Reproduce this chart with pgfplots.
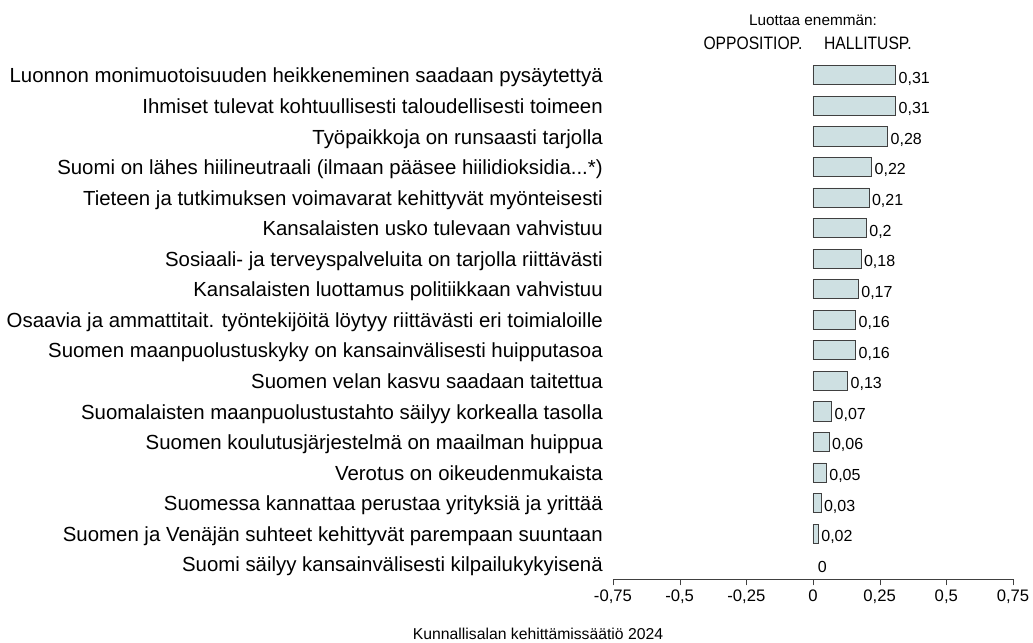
\documentclass[border=0pt]{standalone}
\usepackage{fontspec}
\setmainfont{Liberation Sans}
\usepackage{pgfplots}
\pgfplotsset{compat=1.18}

\definecolor{barFill}{RGB}{206,224,226}
\definecolor{barEdge}{RGB}{64,64,64}

\begin{document}
\begin{tikzpicture}
\begin{axis}[
    scale only axis,
    width=300pt, height=389.6pt,
    xmin=-0.75, xmax=0.75,
    ymin=-0.5, ymax=16.5,
    xbar, bar width=14.3pt, bar shift=0pt,
    axis x line=bottom,
    axis y line=left,
    x axis line style={-, draw=black!75},
    y axis line style={draw=none},
    ytick style={draw=none},
    xtick style={draw=black!75},
    tick align=outside,
    major tick length=4.5pt,
    xtick={-0.75,-0.5,-0.25,0,0.25,0.5,0.75},
    xticklabel style={font=\fontsize{12.5}{14}\selectfont, /pgf/number format/assume math mode=true,
        /pgf/number format/use comma, /pgf/number format/fixed, /pgf/number format/precision=2},
    ytick={0,1,2,3,4,5,6,7,8,9,10,11,12,13,14,15,16},
    yticklabels={
        {Suomi säilyy kansainvälisesti kilpailukykyisenä},
        {Suomen ja Venäjän suhteet kehittyvät parempaan suuntaan},
        {Suomessa kannattaa perustaa yrityksiä ja yrittää},
        {Verotus on oikeudenmukaista},
        {Suomen koulutusjärjestelmä on maailman huippua},
        {Suomalaisten maanpuolustustahto säilyy korkealla tasolla},
        {Suomen velan kasvu saadaan taitettua},
        {Suomen maanpuolustuskyky on kansainvälisesti huipputasoa},
        {Osaavia ja ammattitait. työntekijöitä löytyy riittävästi eri toimialoille},
        {Kansalaisten luottamus politiikkaan vahvistuu},
        {Sosiaali- ja terveyspalveluita on tarjolla riittävästi},
        {Kansalaisten usko tulevaan vahvistuu},
        {Tieteen ja tutkimuksen voimavarat kehittyvät myönteisesti},
        {Suomi on lähes hiilineutraali (ilmaan pääsee hiilidioksidia.{}.{}.*)},
        {Työpaikkoja on runsaasti tarjolla},
        {Ihmiset tulevat kohtuullisesti taloudellisesti toimeen},
        {Luonnon monimuotoisuuden heikkeneminen saadaan pysäytettyä}},
    yticklabel style={font=\fontsize{15.3}{18}\selectfont, anchor=east, inner sep=0pt,
        text height=10.5pt, text depth=3pt, xshift=-3pt, yshift=-2pt},
    nodes near coords,
    nodes near coords style={font=\fontsize{12}{14}\selectfont, anchor=west, inner sep=2pt,
        text height=8.5pt, text depth=2.5pt, yshift=-3pt,
        /pgf/number format/assume math mode=true,
        /pgf/number format/use comma, /pgf/number format/fixed, /pgf/number format/precision=2},
    clip=false,
]
% bars with a value above zero
\addplot[fill=barFill, draw=barEdge, line width=0.6pt] coordinates {
    (0.02,1) (0.03,2) (0.05,3) (0.06,4) (0.07,5) (0.13,6) (0.16,7)
    (0.16,8) (0.17,9) (0.18,10) (0.2,11) (0.21,12) (0.22,13) (0.28,14)
    (0.31,15) (0.31,16)
};
% zero: no bar, only its label
\addplot[draw=none, fill=none, nodes near coords style={inner sep=3.5pt}] coordinates {(0,0)};
\node[font=\fontsize{11.5}{13}\selectfont] at (axis cs:0,17.81) {Luottaa enemmän:};
\node[font=\fontsize{13.5}{15}\selectfont] at (axis cs:-0.225,17.06) {\scalebox{0.87}[1]{OPPOSITIOP.}};
\node[font=\fontsize{13.5}{15}\selectfont] at (axis cs:0.206,17.06) {\scalebox{0.87}[1]{HALLITUSP.}};
\node[font=\fontsize{11.8}{13}\selectfont] at (axis cs:-1.031,-2.27) {Kunnallisalan kehittämissäätiö 2024};
\end{axis}
\pgfresetboundingbox
\begin{scope}[shift={(current axis.south west)}]
\path[use as bounding box] (-459.75pt,-47.6pt) rectangle (315pt,434.6pt);
\end{scope}
\end{tikzpicture}
\end{document}
